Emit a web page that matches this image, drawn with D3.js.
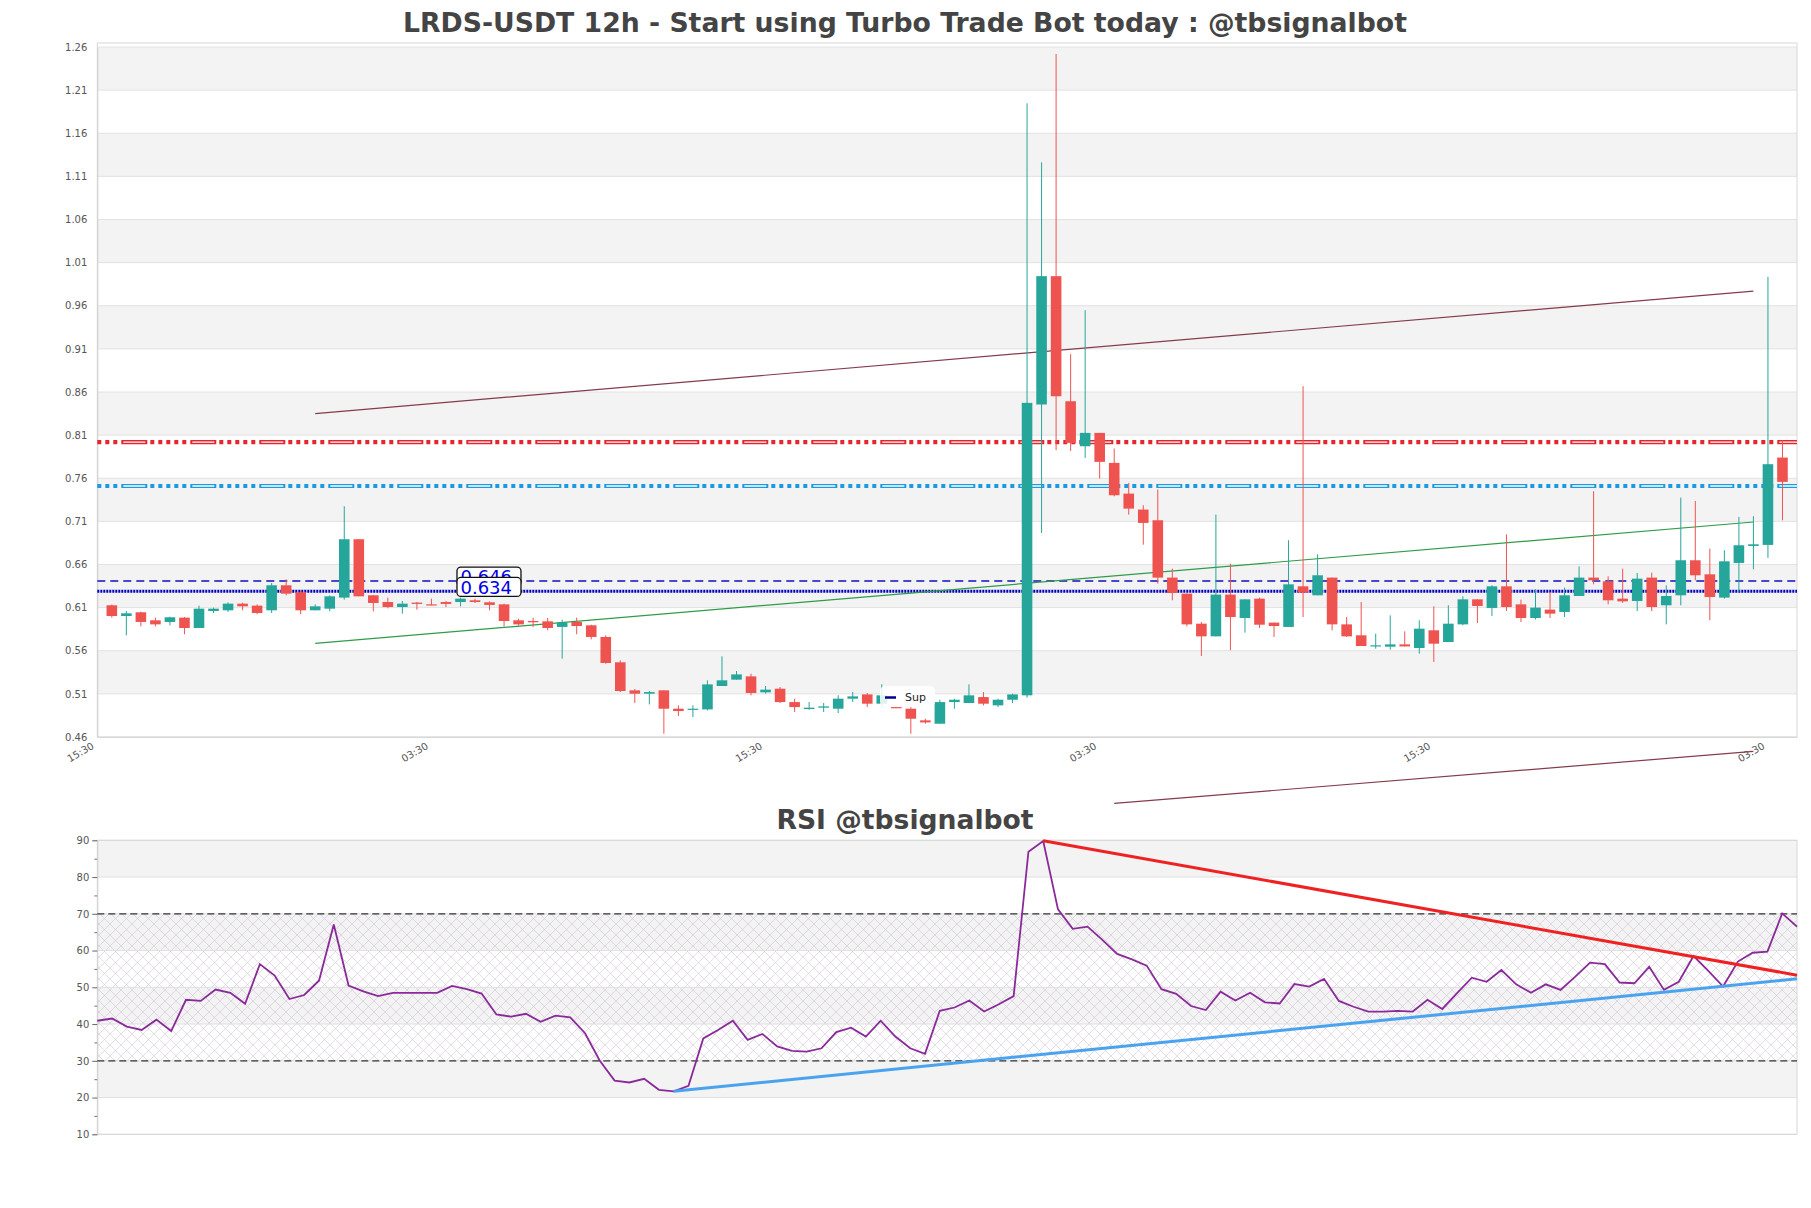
<!DOCTYPE html>
<html><head><meta charset="utf-8">
<script src="https://cdn.jsdelivr.net/npm/d3@7/dist/d3.min.js"></script>
<style>
html,body{margin:0;padding:0;background:#fff;}
svg{display:block;font-family:"DejaVu Sans",sans-serif;}
</style></head><body>
<svg id="chart" width="1811" height="1208"></svg>
<script>
const mainTitle = "LRDS-USDT 12h - Start using Turbo Trade Bot today : @tbsignalbot";
const rsiTitle = "RSI @tbsignalbot";

const opens = [0.6127,0.6003,0.6046,0.5953,0.5934,0.5984,0.5864,0.6061,0.6069,0.6146,
0.6123,0.6069,0.6359,0.6278,0.6069,0.6088,0.6216,0.6893,0.6243,0.6165,
0.6107,0.6158,0.6138,0.6165,0.6165,0.6185,0.6162,0.6138,0.5953,0.5945,
0.5941,0.5876,0.5934,0.5895,0.5760,0.5466,0.5141,0.5102,0.5141,0.4928,
0.4916,0.4920,0.5191,0.5265,0.5303,0.5118,0.5160,0.5005,0.4924,0.4940,
0.4928,0.5044,0.5094,0.4986,0.4947,0.4928,0.4793,0.4754,0.5005,0.4994,
0.5063,0.4967,0.5032,0.5083,0.8455,0.9943,0.8493,0.7971,0.8126,0.7778,
0.7422,0.7237,0.7113,0.6448,0.6262,0.5914,0.5767,0.6251,0.5980,0.6204,
0.5926,0.5876,0.6347,0.6243,0.6448,0.5906,0.5779,0.5655,0.5647,0.5674,
0.5632,0.5837,0.5701,0.5906,0.6196,0.6096,0.6347,0.6138,0.5980,0.6077,
0.6050,0.6235,0.6448,0.6405,0.6204,0.6177,0.6448,0.6127,0.6243,0.6649,
0.6486,0.6216,0.6618,0.6815,0.6827,0.7840];
const highs = [0.6135,0.6061,0.6053,0.5984,0.5995,0.5992,0.6123,0.6100,0.6162,0.6158,
0.6138,0.6386,0.6428,0.6301,0.6138,0.6243,0.7275,0.6893,0.6243,0.6216,
0.6177,0.6165,0.6204,0.6177,0.6216,0.6204,0.6173,0.6146,0.5972,0.5984,
0.5980,0.5960,0.5984,0.5903,0.5779,0.5489,0.5156,0.5133,0.5141,0.4967,
0.4967,0.5257,0.5535,0.5365,0.5334,0.5191,0.5180,0.5044,0.5005,0.4994,
0.5083,0.5121,0.5110,0.5211,0.4950,0.4947,0.4812,0.5032,0.5044,0.5210,
0.5121,0.5044,0.5102,1.1947,1.1262,1.2519,0.9038,0.9549,0.8126,0.7944,
0.7546,0.7287,0.7469,0.6552,0.6262,0.5933,0.7179,0.6610,0.6196,0.6216,
0.5926,0.6881,0.8667,0.6718,0.6448,0.5991,0.6165,0.5798,0.6010,0.5825,
0.5953,0.6115,0.6127,0.6231,0.6196,0.6359,0.6950,0.6193,0.6309,0.6281,
0.6332,0.6579,0.7450,0.6463,0.6552,0.6502,0.6506,0.6359,0.7376,0.7337,
0.6784,0.6765,0.7152,0.7160,0.9935,0.8041];
const lows = [0.5984,0.5779,0.5883,0.5883,0.5895,0.5791,0.5864,0.6038,0.6050,0.6069,
0.6023,0.6038,0.6243,0.6023,0.6069,0.6057,0.6193,0.6231,0.6057,0.6092,
0.6030,0.6076,0.6127,0.6107,0.6115,0.6154,0.6069,0.5883,0.5891,0.5876,
0.5837,0.5508,0.5791,0.5732,0.5450,0.5121,0.4994,0.4978,0.4638,0.4843,
0.4831,0.4909,0.5191,0.5265,0.5083,0.5102,0.4994,0.4890,0.4916,0.4890,
0.4878,0.5005,0.4947,0.4967,0.4936,0.4638,0.4754,0.4754,0.4928,0.4994,
0.4967,0.4947,0.4994,0.5055,0.6966,0.7925,0.7917,0.7836,0.7596,0.7391,
0.7178,0.6830,0.6378,0.6185,0.5883,0.5539,0.5767,0.5605,0.5810,0.5864,
0.5760,0.5876,0.5991,0.6243,0.5837,0.5760,0.5655,0.5624,0.5613,0.5650,
0.5566,0.5470,0.5701,0.5895,0.5922,0.6003,0.6061,0.5933,0.5964,0.5980,
0.5991,0.6235,0.6370,0.6138,0.6154,0.6061,0.6061,0.5906,0.6127,0.6417,
0.5953,0.6204,0.6281,0.6544,0.6676,0.7113];
const closes = [0.6003,0.6034,0.5934,0.5906,0.5988,0.5864,0.6088,0.6088,0.6146,0.6115,
0.6038,0.6359,0.6262,0.6069,0.6115,0.6231,0.6893,0.6231,0.6154,0.6107,
0.6146,0.6143,0.6127,0.6143,0.6204,0.6165,0.6131,0.5945,0.5906,0.5930,
0.5864,0.5926,0.5887,0.5760,0.5458,0.5133,0.5102,0.5121,0.4928,0.4901,
0.4928,0.5210,0.5257,0.5326,0.5110,0.5149,0.5005,0.4947,0.4940,0.4955,
0.5044,0.5071,0.4986,0.5083,0.4940,0.4812,0.4769,0.5005,0.5032,0.5083,
0.4986,0.5032,0.5094,0.8474,0.9943,0.8551,0.8010,0.8126,0.7790,0.7403,
0.7248,0.7082,0.6448,0.6270,0.5906,0.5767,0.6251,0.5991,0.6196,0.5902,
0.5887,0.6370,0.6274,0.6475,0.5906,0.5767,0.5655,0.5663,0.5674,0.5650,
0.5856,0.5682,0.5914,0.6196,0.6119,0.6347,0.6107,0.5980,0.6100,0.6030,
0.6243,0.6448,0.6417,0.6185,0.6173,0.6436,0.6107,0.6235,0.6649,0.6475,
0.6223,0.6637,0.6823,0.6834,0.7763,0.7558];

const rsiValues = [40.9,41.5,39.3,38.4,41.2,38.1,46.6,46.3,49.4,48.5,
45.5,56.3,53.2,46.8,47.9,51.8,67.1,50.5,48.9,47.6,
48.5,48.5,48.5,48.5,50.4,49.5,48.3,42.6,42.0,42.8,
40.6,42.3,41.8,37.5,30.0,24.6,24.1,25.1,22.1,21.7,
23.2,36.1,38.4,40.9,35.7,37.3,33.9,32.7,32.5,33.4,
37.8,39.0,36.6,40.9,36.6,33.4,31.9,43.6,44.5,46.4,
43.4,45.4,47.6,86.9,89.8,71.2,65.9,66.5,62.9,59.1,
57.6,55.9,49.5,48.2,44.9,43.8,48.8,46.4,48.5,45.9,
45.6,50.9,50.2,52.3,46.3,44.7,43.4,43.4,43.6,43.4,
46.6,44.1,48.4,52.6,51.5,54.7,50.8,48.5,50.8,49.3,
52.9,56.7,56.3,51.3,51.1,55.6,49.3,51.5,58.5,54.5,
50.2,57.0,59.4,59.7,70.1,66.5];

const priceTicks = [1.26,1.21,1.16,1.11,1.06,1.01,0.96,0.91,0.86,0.81,0.76,0.71,0.66,0.61,0.56,0.51,0.46];
const rsiTicks = [10,20,30,40,50,60,70,80,90];
const rsiMinorTicks = [15,25,35,45,55,65,75,85];
const timeTickIdx = [-1,22,45,68,91,114];
const timeTickLabels = ["15:30","03:30","15:30","03:30","15:30","03:30"];

const resistanceLevel = 0.802;
const resistance2Level = 0.751;
const dashedLevel = 0.641;
const dottedLevel = 0.629;
const levelLabelValues = [0.646, 0.634];
const levelLabelTexts = ["0.646", "0.634"];
const levelLabelIdx = 24;

const priceTrendUpper = [14, 0.835, 113, 0.977];
const priceTrendLower = [14, 0.5686, 113, 0.7093];
const priceTrendExtra = [69, 0.383, 113, 0.4433];
const rsiTrendRed = [64, 89.9, 115, 53.3];
const rsiTrendBlue = [39, 21.7, 115, 52.3];
const rsiLevels = [70, 30];

const svg = d3.select("#chart");
const UP = "#26a69a", DOWN = "#ef5350";

// ---------- MAIN PRICE PANEL ----------
const M = {left: 97.3, right: 1797, top: 43, bottom: 737};
const x = d3.scaleLinear().domain([-1, 116]).range([M.left, M.right]);
const y = d3.scaleLinear().domain([0.46, 1.26]).range([737, 47]);

svg.append("text").attr("x", 905).attr("y", 32).attr("text-anchor", "middle")
  .attr("font-size", 26.7).attr("font-weight", "bold").attr("fill", "#444").text(mainTitle);

const gMain = svg.append("g");
for (let k = 0; k < priceTicks.length - 1; k++) {
  if (k % 2 === 0) {
    gMain.append("rect").attr("x", M.left).attr("width", M.right - M.left)
      .attr("y", y(priceTicks[k])).attr("height", y(priceTicks[k+1]) - y(priceTicks[k]))
      .attr("fill", "#f3f3f3");
  }
}
gMain.selectAll("line.grid").data(priceTicks).enter().append("line")
  .attr("x1", M.left).attr("x2", M.right).attr("y1", d => y(d)).attr("y2", d => y(d))
  .attr("stroke", "#e2e2e2").attr("stroke-width", 1);
gMain.append("rect").attr("x", M.left).attr("y", M.top).attr("width", M.right - M.left)
  .attr("height", M.bottom - M.top).attr("fill", "none").attr("stroke", "#d8d8d8");

const yAxis = gMain.append("g").attr("transform", `translate(${M.left},0)`)
  .call(d3.axisLeft(y).tickValues(priceTicks).tickFormat(d3.format(".2f")).tickSize(0).tickPadding(10));
yAxis.select(".domain").attr("stroke", "#d0d0d0");
yAxis.selectAll("text").attr("font-size", 10).attr("fill", "#555").attr("font-family", "DejaVu Sans");

const xAxis = gMain.append("g").attr("transform", `translate(0,${M.bottom})`)
  .call(d3.axisBottom(x).tickValues(timeTickIdx).tickFormat((d, i) => timeTickLabels[i]).tickSize(0));
xAxis.select(".domain").attr("stroke", "#d8d8d8");
xAxis.selectAll("text").attr("font-size", 10).attr("fill", "#555").attr("font-family", "DejaVu Sans")
  .attr("text-anchor", "end").attr("x", 0).attr("y", 0).attr("dy", 0)
  .attr("transform", "translate(-3,11) rotate(-30)");

function fancyLevel(v, color) {
  const yy = y(v);
  gMain.append("line").attr("x1", M.left).attr("x2", M.right).attr("y1", yy).attr("y2", yy)
    .attr("stroke", color).attr("stroke-width", 4.2).attr("stroke-dasharray", "4,4,4,4,4,4,26,3,4,4,4,4");
  gMain.append("line").attr("x1", M.left).attr("x2", M.right).attr("y1", yy).attr("y2", yy)
    .attr("stroke", "#fff").attr("stroke-width", 1.3).attr("stroke-dasharray", "0,26,22,21");
}
fancyLevel(resistanceLevel, "#e3262e");
fancyLevel(resistance2Level, "#1c9ae0");

gMain.append("line").attr("x1", M.left).attr("x2", M.right).attr("y1", y(dashedLevel)).attr("y2", y(dashedLevel))
  .attr("stroke", "#1010c0").attr("stroke-width", 1.5).attr("stroke-dasharray", "8,5");
gMain.append("line").attr("x1", M.left).attr("x2", M.right).attr("y1", y(dottedLevel)).attr("y2", y(dottedLevel))
  .attr("stroke", "#0000bb").attr("stroke-width", 3).attr("stroke-dasharray", "2,1");

function trend(g, xs, ys, t, color, w) {
  g.append("line").attr("x1", xs(t[0])).attr("y1", ys(t[1])).attr("x2", xs(t[2])).attr("y2", ys(t[3]))
    .attr("stroke", color).attr("stroke-width", w);
}
trend(gMain, x, y, priceTrendUpper, "#843c4c", 1.2);
trend(gMain, x, y, priceTrendLower, "#2e9c48", 1.2);
trend(svg, x, y, priceTrendExtra, "#843c4c", 1.2);

const idx = d3.range(opens.length);
const bw = 10.6;
const cg = gMain.append("g");
cg.selectAll("line.wick").data(idx).enter().append("line")
  .attr("x1", i => x(i)).attr("x2", i => x(i))
  .attr("y1", i => y(highs[i])).attr("y2", i => y(lows[i]))
  .attr("stroke", i => closes[i] >= opens[i] ? UP : DOWN).attr("stroke-width", 1);
cg.selectAll("rect.body").data(idx).enter().append("rect")
  .attr("x", i => x(i) - bw / 2).attr("width", bw)
  .attr("y", i => y(Math.max(opens[i], closes[i])))
  .attr("height", i => Math.max(1.2, Math.abs(y(opens[i]) - y(closes[i]))))
  .attr("fill", i => closes[i] >= opens[i] ? UP : DOWN);

levelLabelValues.forEach((v, k) => {
  const cy = y(v);
  const bx = x(levelLabelIdx) - 3.5;
  gMain.append("rect").attr("x", bx).attr("y", cy - 9.5).attr("width", 64).attr("height", 19)
    .attr("rx", 4).attr("fill", "#fff").attr("stroke", "#111").attr("stroke-width", 1.3);
  gMain.append("text").attr("x", bx + 3.5).attr("y", cy + 6.6).attr("font-size", 18)
    .attr("fill", "#0000e6").text(levelLabelTexts[k]);
});

const lg = gMain.append("g").attr("transform", "translate(880,686)");
lg.append("rect").attr("width", 55).attr("height", 21).attr("rx", 5).attr("fill", "#fff").attr("fill-opacity", 0.85);
lg.append("line").attr("x1", 5).attr("x2", 16).attr("y1", 11.5).attr("y2", 11.5).attr("stroke", "#00008b").attr("stroke-width", 2.5);
lg.append("text").attr("x", 25).attr("y", 15).attr("font-size", 11).attr("fill", "#222").text("Sup");

// ---------- RSI PANEL ----------
const R = {left: 97.3, right: 1797, top: 840.3, bottom: 1134.3};
const xr = d3.scaleLinear().domain([0, rsiValues.length - 1]).range([R.left, R.right]);
const yr = d3.scaleLinear().domain([10, 90]).range([R.bottom, R.top]);

svg.append("text").attr("x", 905).attr("y", 829).attr("text-anchor", "middle")
  .attr("font-size", 26.6).attr("font-weight", "bold").attr("fill", "#444").text(rsiTitle);

const defs = svg.append("defs");
const pat = defs.append("pattern").attr("id", "hatch").attr("width", 11).attr("height", 11)
  .attr("patternUnits", "userSpaceOnUse");
pat.append("path").attr("d", "M0,0 L11,11 M11,0 L0,11 M-1,10 L1,12 M10,-1 L12,1")
  .attr("stroke", "#c7b9cf").attr("stroke-width", 0.6).attr("fill", "none");

const gR = svg.append("g");
const rsiBandTicks = rsiTicks.slice().reverse();
for (let k = 0; k < rsiBandTicks.length - 1; k++) {
  if (k % 2 === 0) {
    gR.append("rect").attr("x", R.left).attr("width", R.right - R.left)
      .attr("y", yr(rsiBandTicks[k])).attr("height", yr(rsiBandTicks[k+1]) - yr(rsiBandTicks[k]))
      .attr("fill", "#f3f3f3");
  }
}
gR.append("rect").attr("x", R.left).attr("width", R.right - R.left)
  .attr("y", yr(rsiLevels[0])).attr("height", yr(rsiLevels[1]) - yr(rsiLevels[0]))
  .attr("fill", "url(#hatch)").attr("opacity", 0.8);
gR.selectAll("line.grid").data(rsiTicks).enter().append("line")
  .attr("x1", R.left).attr("x2", R.right).attr("y1", d => yr(d)).attr("y2", d => yr(d))
  .attr("stroke", "#e0e0e0");
gR.append("rect").attr("x", R.left).attr("y", R.top).attr("width", R.right - R.left)
  .attr("height", R.bottom - R.top).attr("fill", "none").attr("stroke", "#d8d8d8");

const ra = gR.append("g").attr("transform", `translate(${R.left},0)`)
  .call(d3.axisLeft(yr).tickValues(rsiTicks).tickFormat(d3.format("d")).tickSize(5).tickPadding(3));
ra.select(".domain").attr("stroke", "#d0d0d0");
ra.selectAll("line").attr("stroke", "#666");
ra.selectAll("text").attr("font-size", 10).attr("fill", "#555").attr("font-family", "DejaVu Sans");
const rm = gR.append("g").attr("transform", `translate(${R.left},0)`)
  .call(d3.axisLeft(yr).tickValues(rsiMinorTicks).tickFormat("").tickSize(3));
rm.select(".domain").remove();
rm.selectAll("line").attr("stroke", "#777");

rsiLevels.forEach(v => {
  gR.append("line").attr("x1", R.left).attr("x2", R.right).attr("y1", yr(v)).attr("y2", yr(v))
    .attr("stroke", "#333").attr("stroke-width", 1.2).attr("stroke-dasharray", "7,4");
});

gR.append("path").datum(rsiValues)
  .attr("d", d3.line().x((d, i) => xr(i)).y(d => yr(d)))
  .attr("fill", "none").attr("stroke", "#8a2a9a").attr("stroke-width", 1.8);

trend(gR, xr, yr, rsiTrendRed, "#ee2222", 3);
trend(gR, xr, yr, rsiTrendBlue, "#4aa3ef", 3);
</script>
</body></html>
